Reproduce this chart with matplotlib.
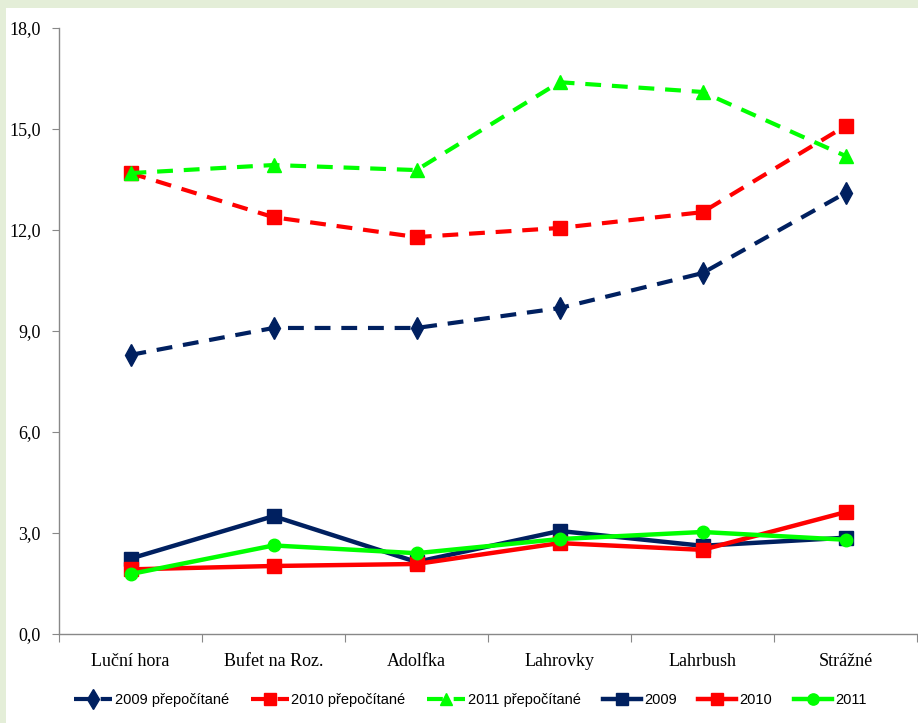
import numpy as np
import matplotlib
matplotlib.use('Agg')
import matplotlib.pyplot as plt
from matplotlib.patches import Rectangle
from matplotlib.ticker import FuncFormatter

# station names along the x axis
stations = ['Luční hora', 'Bufet na Roz.', 'Adolfka', 'Lahrovky', 'Lahrbush', 'Strážné']

# recalculated values (dashed)
p2009 = [8.29, 9.09, 9.09, 9.68, 10.72, 13.10]
p2010 = [13.69, 12.38, 11.79, 12.06, 12.53, 15.09]
p2011 = [13.69, 13.93, 13.78, 16.39, 16.10, 14.20]

# measured values (solid)
v2009 = [2.24, 3.50, 2.14, 3.06, 2.62, 2.86]
v2010 = [1.92, 2.02, 2.08, 2.70, 2.50, 3.62]
v2011 = [1.78, 2.63, 2.40, 2.82, 3.03, 2.80]

navy = '#002060'
red = '#ff0000'
green = '#00ff00'

fig = plt.figure(figsize=(9.18, 7.23), dpi=100)
fig.patch.set_facecolor('#e4eed8')
bg = Rectangle((6/918, 0), 1, (723-8)/723, transform=fig.transFigure,
               facecolor='white', edgecolor='none', zorder=-5)
fig.add_artist(bg)

ax = fig.add_axes([59/918, (723-634)/723, (917-59)/918, (634-28)/723])
ax.set_facecolor('none')
x = np.arange(len(stations))

dash = (3.8, 2.6)
ax.plot(x, p2009, color=navy, ls='--', lw=3, marker='d', ms=11, label='2009 přepočítané',
        dashes=dash)
ax.plot(x, p2010, color=red, ls='--', lw=3, marker='s', ms=10, label='2010 přepočítané',
        dashes=dash)
ax.plot(x, p2011, color=green, ls='--', lw=3, marker='^', ms=10, label='2011 přepočítané',
        dashes=dash)
ax.plot(x, v2009, color=navy, lw=3.2, marker='s', ms=10, label='2009')
ax.plot(x, v2010, color=red, lw=3.2, marker='s', ms=10, label='2010')
ax.plot(x, v2011, color=green, lw=3.2, marker='o', ms=9, label='2011')

ax.set_xlim(-0.5, len(stations) - 0.5)
ax.set_ylim(0, 18)
ax.set_yticks(np.arange(0, 18.1, 3))
ax.yaxis.set_major_formatter(FuncFormatter(lambda v, p: f'{v:.1f}'.replace('.', ',')))

ax.set_xticks(np.arange(-0.5, len(stations), 1.0))
ax.set_xticklabels([])
ax.set_xticks(x, minor=True)
ax.set_xticklabels(stations, minor=True)
ax.tick_params(axis='x', which='minor', length=0, pad=14)
ax.tick_params(axis='x', which='major', length=6, color='#888888')
ax.tick_params(axis='y', length=5, color='#888888', pad=8)

for lab in ax.get_xticklabels(minor=True) + ax.get_yticklabels():
    lab.set_family('Liberation Serif')
    lab.set_fontsize(13)

for s in ['top', 'right']:
    ax.spines[s].set_visible(False)
for s in ['left', 'bottom']:
    ax.spines[s].set_color('#888888')
    ax.spines[s].set_linewidth(1)

leg = fig.legend(loc='center', bbox_to_anchor=(0.512, 1 - 700/723), ncol=6, frameon=False,
                 prop={'family': 'Liberation Sans', 'size': 10.5},
                 handlelength=2.6, handletextpad=0.2, columnspacing=1.5, markerscale=0.9)

fig.savefig('out.png', dpi=100)
